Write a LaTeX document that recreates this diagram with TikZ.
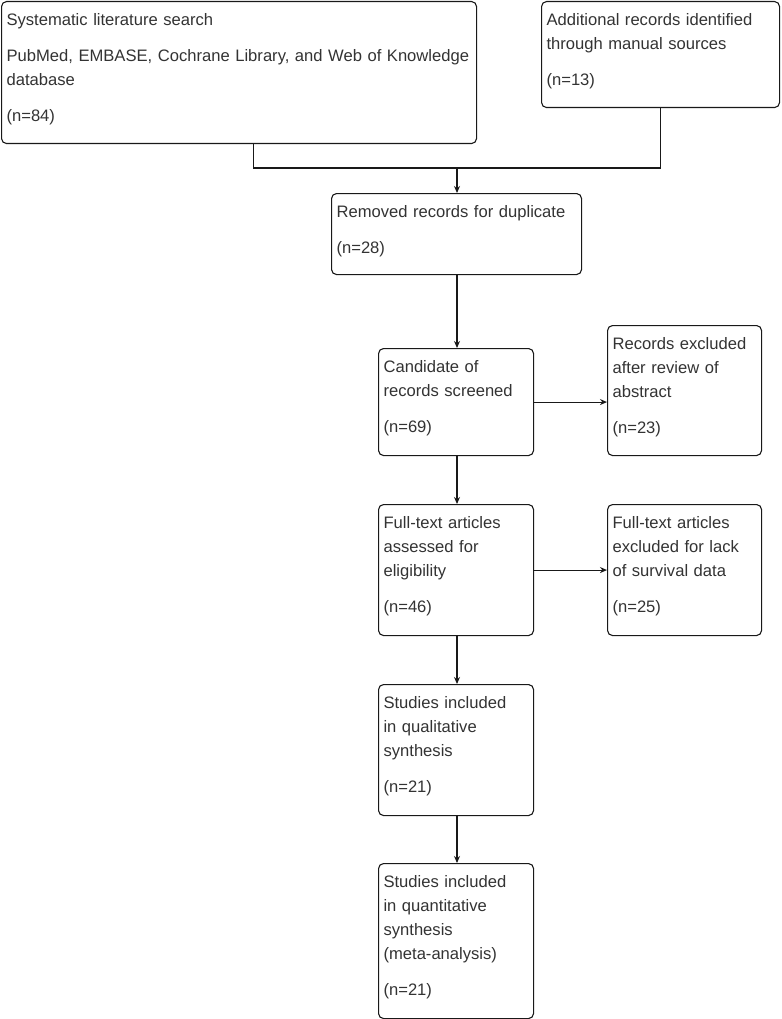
\documentclass[tikz,border=0pt]{standalone}
\usepackage{fontspec}
\setmainfont{Liberation Sans}
\usetikzlibrary{arrows.meta, positioning}

\begin{document}
\begin{tikzpicture}[x=1pt, y=-1pt, ->, >={Stealth[length=7pt,width=6pt]}, line width=1.1pt, draw=black!90,
    box/.style={draw=black!90, rounded corners=5pt, anchor=north west, align=left,
      inner xsep=5pt, inner ysep=0pt, text height=24pt, text=black!80,
      font=\fontsize{16.6}{24}\selectfont}]
      \useasboundingbox (0,0) rectangle (781,1019);

      \node[box, text width=465pt, text depth=118pt] (srch) at (1,1)
        {Systematic literature search\\[12pt] \mbox{PubMed, EMBASE, Cochrane Library, and Web of Knowledge}\\ database\\[12pt] (n=84)};
      \node[box, text width=228pt, text depth=82pt] (man) at (541,1)
        {Additional records identified\\ through manual sources\\[12pt] (n=13)};
      \node[box, text width=240pt, text depth=57pt] (dup) at (331,193)
        {Removed records for duplicate\\[12pt] (n=28)};
      \node[box, text width=145pt, text depth=83pt] (scr) at (378,348)
        {Candidate of\\ records screened\\[12pt] (n=69)};
      \node[box, text width=144pt, text depth=106pt] (exa) at (607,325)
        {Records excluded\\ after review of\\ abstract\\[12pt] (n=23)};
      \node[box, text width=145pt, text depth=107pt] (elig) at (378,504)
        {Full-text articles\\ assessed for\\ eligibility\\[12pt] (n=46)};
      \node[box, text width=144pt, text depth=107pt] (exs) at (607,504)
        {Full-text articles\\ excluded for lack\\ of survival data\\[12pt] (n=25)};
      \node[box, text width=145pt, text depth=107pt] (qual) at (378,684)
        {Studies included\\ in qualitative\\ synthesis\\[12pt] (n=21)};
      \node[box, text width=145pt, text depth=131pt] (quant) at (378,863)
        {Studies included\\ in quantitative\\ synthesis\\ (meta-analysis)\\[12pt] (n=21)};

      % junction of the two sources
      \coordinate (j) at (457,168);
      \draw[-] ([xshift=14.5pt]srch.south) |- (j) -| (man.south);

      \path (j) edge (j |- dup.north)
            (j |- dup.south) edge (j |- scr.north)
            (scr.east) edge (scr.east -| exa.west)
            (j |- scr.south) edge (j |- elig.north)
            (elig) edge (exs)
            (j |- elig.south) edge (j |- qual.north)
            (j |- qual.south) edge (j |- quant.north)
            ;
    \end{tikzpicture}
\end{document}
